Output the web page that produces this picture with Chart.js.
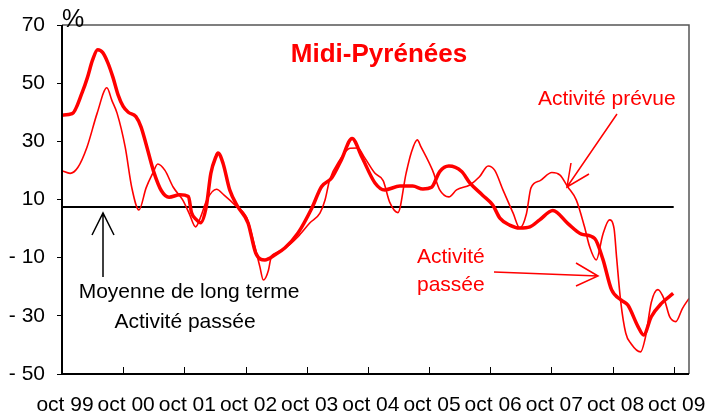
<!DOCTYPE html>
<html>
<head>
<meta charset="utf-8">
<script src="https://cdn.jsdelivr.net/npm/chart.js@4.4.1/dist/chart.umd.min.js"></script>
<style>
  body { margin: 0; background: #fff; }
  #wrap { width: 706px; height: 414px; }
</style>
</head>
<body>
<div id="wrap"><canvas id="myChart" width="706" height="414"></canvas></div>
<script>
// months counted from oct 99
var xTickLabels = ['oct 99', 'oct 00', 'oct 01', 'oct 02', 'oct 03', 'oct 04', 'oct 05', 'oct 06', 'oct 07', 'oct 08', 'oct 09'];

var passeeMonths = [0, 2, 4, 5, 6, 7, 8, 9, 10, 11, 12, 13, 14.5, 15.5, 16.5, 18, 19.5, 21, 23.1, 24.8, 25.4, 26.4, 27.2, 28.3, 29.2, 30.2, 30.6, 31.6, 32.9, 34.5, 36.5, 38, 39.8, 41.8, 43.7, 46.3, 49, 50.9, 52.9, 54.8, 56.9, 58.8, 61.4, 63.3, 66.3, 68.8, 70.8, 72.5, 74.1, 75.9, 78.4, 80, 82.5, 84.5, 85.9, 87.8, 89.8, 91.8, 93.7, 96.3, 99.2, 101.9, 104.5, 106.1, 107.8, 109.7, 111, 113, 114.1, 115.6, 117.6, 119.9];
var passeeValues = [39, 39.5, 47, 52, 58, 61.5, 60.5, 57, 52, 46, 42, 40, 38.5, 35, 29, 19.5, 13, 10.8, 11.6, 11, 5.5, 3, 2, 7.5, 19, 24.7, 26, 22.4, 13.3, 7.5, 1.9, -8.4, -10.8, -9, -6.7, -1.5, 7, 14.4, 17.4, 23.6, 31, 24.7, 15.7, 13.3, 14.6, 14.6, 13.6, 14.2, 19.6, 21.5, 19.6, 15.7, 11.5, 8.1, 3.6, 1.2, 0.2, 0.6, 3, 6.2, 1.8, -1.9, -3.4, -10.5, -21, -24.6, -26.3, -33.7, -36.6, -30.3, -25.7, -22.3];

var prevueMonths = [0, 1.6, 3.1, 4.9, 6.9, 8.8, 9.8, 10.8, 12.4, 13.7, 15.1, 16.5, 17.8, 18.8, 20.2, 21.8, 23.7, 25, 26.2, 27.2, 28.4, 30.3, 31.8, 34.1, 36.3, 37.8, 38.8, 39.5, 40.5, 41, 42, 43.8, 46.3, 48.6, 50.6, 51.6, 52.5, 54.5, 56.5, 58, 59.4, 61.4, 63, 64.3, 65.9, 67.5, 68.5, 69.7, 70.4, 72.7, 74.1, 75.9, 77.4, 80, 81.9, 83.6, 84.9, 86.5, 88.5, 89.8, 91.1, 92, 93.8, 96.1, 97.7, 99.2, 100.9, 102.5, 103.5, 104.8, 106.1, 107.4, 108.3, 108.8, 109.6, 110.6, 111.6, 113.5, 114.5, 115.6, 116.9, 118.2, 119.2, 120.4, 121.7, 123];
var prevueValues = [19.9, 19, 21, 28, 39.7, 48.4, 44, 39.7, 28, 14, 6.4, 14, 19, 22.2, 20, 14.3, 9.8, 5, 0.6, 4, 9.8, 13.5, 11.5, 7.8, 3.5, -6, -13, -17.7, -14.3, -10, -8.4, -6.7, -2.8, 1.9, 5.3, 9.8, 16.7, 23.6, 27.6, 27.7, 24.3, 19, 16.5, 9, 5.5, 19, 26, 30.5, 28.2, 20, 13.3, 10.9, 13.3, 15, 17.8, 21.5, 20, 13.3, 5.3, 0.2, 5, 14, 16.5, 19.3, 18.4, 14.4, 9.8, 0.6, -6.2, -10.8, -2, 3, 0, -10, -25, -36, -39.5, -42.4, -37, -25.4, -21, -24.6, -30.3, -32, -27.5, -24];

var moyenne = 7.4;

function toPoints(xs, ys) {
    return xs.map(function (m, i) { return { x: m, y: ys[i] }; });
}

var fontName = '"Liberation Sans", Arial, sans-serif';

var decor = {
    id: 'decor',
    afterDraw: function (chart) {
        var c = chart.ctx, a = chart.chartArea, xs = chart.scales.x;
        c.save();
        // box
        c.strokeStyle = '#555';
        c.lineWidth = 1.5;
        c.beginPath();
        c.moveTo(a.left, a.top); c.lineTo(a.right, a.top); c.lineTo(a.right, a.bottom);
        c.stroke();
        c.strokeStyle = '#000';
        c.lineWidth = 2;
        c.beginPath();
        c.moveTo(a.left, a.top); c.lineTo(a.left, a.bottom); c.lineTo(a.right, a.bottom);
        c.stroke();
        // inner ticks
        c.lineWidth = 1;
        for (var m = 12; m <= 120; m += 12) {
            var px = Math.round(xs.getPixelForValue(m)) + 0.5;
            c.beginPath(); c.moveTo(px, a.bottom); c.lineTo(px, a.bottom - 7); c.stroke();
        }
        // texts
        c.fillStyle = '#000';
        c.font = '25px ' + fontName;
        c.textAlign = 'left';
        c.fillText('%', 62, 27);
        c.font = '21px ' + fontName;
        c.textAlign = 'center';
        c.fillText('Moyenne de long terme', 189, 298);
        c.fillText('Activité passée', 185, 328);
        c.fillStyle = '#ff0000';
        c.font = 'bold 26px ' + fontName;
        c.fillText('Midi-Pyrénées', 379, 62);
        c.font = '21px ' + fontName;
        c.textAlign = 'left';
        c.fillText('Activité prévue', 538, 105);
        c.fillText('Activité', 417, 263);
        c.fillText('passée', 417, 291);
        // arrows
        function arrow(color, x1, y1, x2, y2, h1x, h1y, h2x, h2y) {
            c.strokeStyle = color;
            c.lineWidth = 1.5;
            c.beginPath();
            c.moveTo(x1, y1); c.lineTo(x2, y2);
            c.moveTo(h1x, h1y); c.lineTo(x2, y2); c.lineTo(h2x, h2y);
            c.stroke();
        }
        arrow('#000', 103, 277, 103, 213, 92, 235, 114, 235);
        arrow('#ff0000', 494, 272, 598, 276, 576, 263, 576, 286);
        arrow('#ff0000', 617, 114, 567, 187, 571, 163, 589, 174);
        c.restore();
    }
};

var ctx = document.getElementById('myChart');

var myChart = new Chart(ctx, {
    type: 'line',
    data: {
        datasets: [{
            label: 'Activité passée',
            data: toPoints(passeeMonths, passeeValues),
            borderColor: '#ff0000',
            borderWidth: 3.5,
            pointRadius: 0,
            cubicInterpolationMode: 'monotone'
        }, {
            label: 'Activité prévue',
            data: toPoints(prevueMonths, prevueValues),
            borderColor: '#ff0000',
            borderWidth: 1.6,
            pointRadius: 0,
            cubicInterpolationMode: 'monotone'
        }, {
            label: 'Moyenne de long terme',
            data: [{ x: 0, y: moyenne }, { x: 120, y: moyenne }],
            borderColor: '#000',
            borderWidth: 2,
            pointRadius: 0
        }]
    },
    options: {
        responsive: false,
        animation: false,
        layout: { padding: { top: 25, right: 17, left: 0, bottom: 0 } },
        plugins: { legend: { display: false }, tooltip: { enabled: false } },
        scales: {
            x: {
                type: 'linear',
                min: 0,
                max: 123,
                afterBuildTicks: function (s) {
                    s.ticks = xTickLabels.map(function (l, i) { return { value: i * 12 }; });
                },
                afterFit: function (s) { s.height = 40; s.paddingLeft = 0; s.paddingRight = 0; },
                grid: { display: false },
                border: { display: false },
                ticks: {
                    autoSkip: false,
                    maxRotation: 0,
                    padding: 11,
                    labelOffset: 3,
                    color: '#000',
                    font: { size: 21, family: fontName },
                    callback: function (v) { return xTickLabels[Math.round(v / 12)]; }
                }
            },
            y: {
                min: -50,
                max: 70,
                afterFit: function (s) { s.width = 62; },
                grid: { drawOnChartArea: false, drawTicks: true, tickLength: 5, color: '#000' },
                border: { display: false },
                ticks: {
                    stepSize: 20,
                    padding: 12,
                    color: '#000',
                    font: { size: 21, family: fontName },
                    callback: function (v) { return v < 0 ? '- ' + Math.abs(v) : '' + v; }
                }
            }
        }
    },
    plugins: [decor]
});
</script>
</body>
</html>
